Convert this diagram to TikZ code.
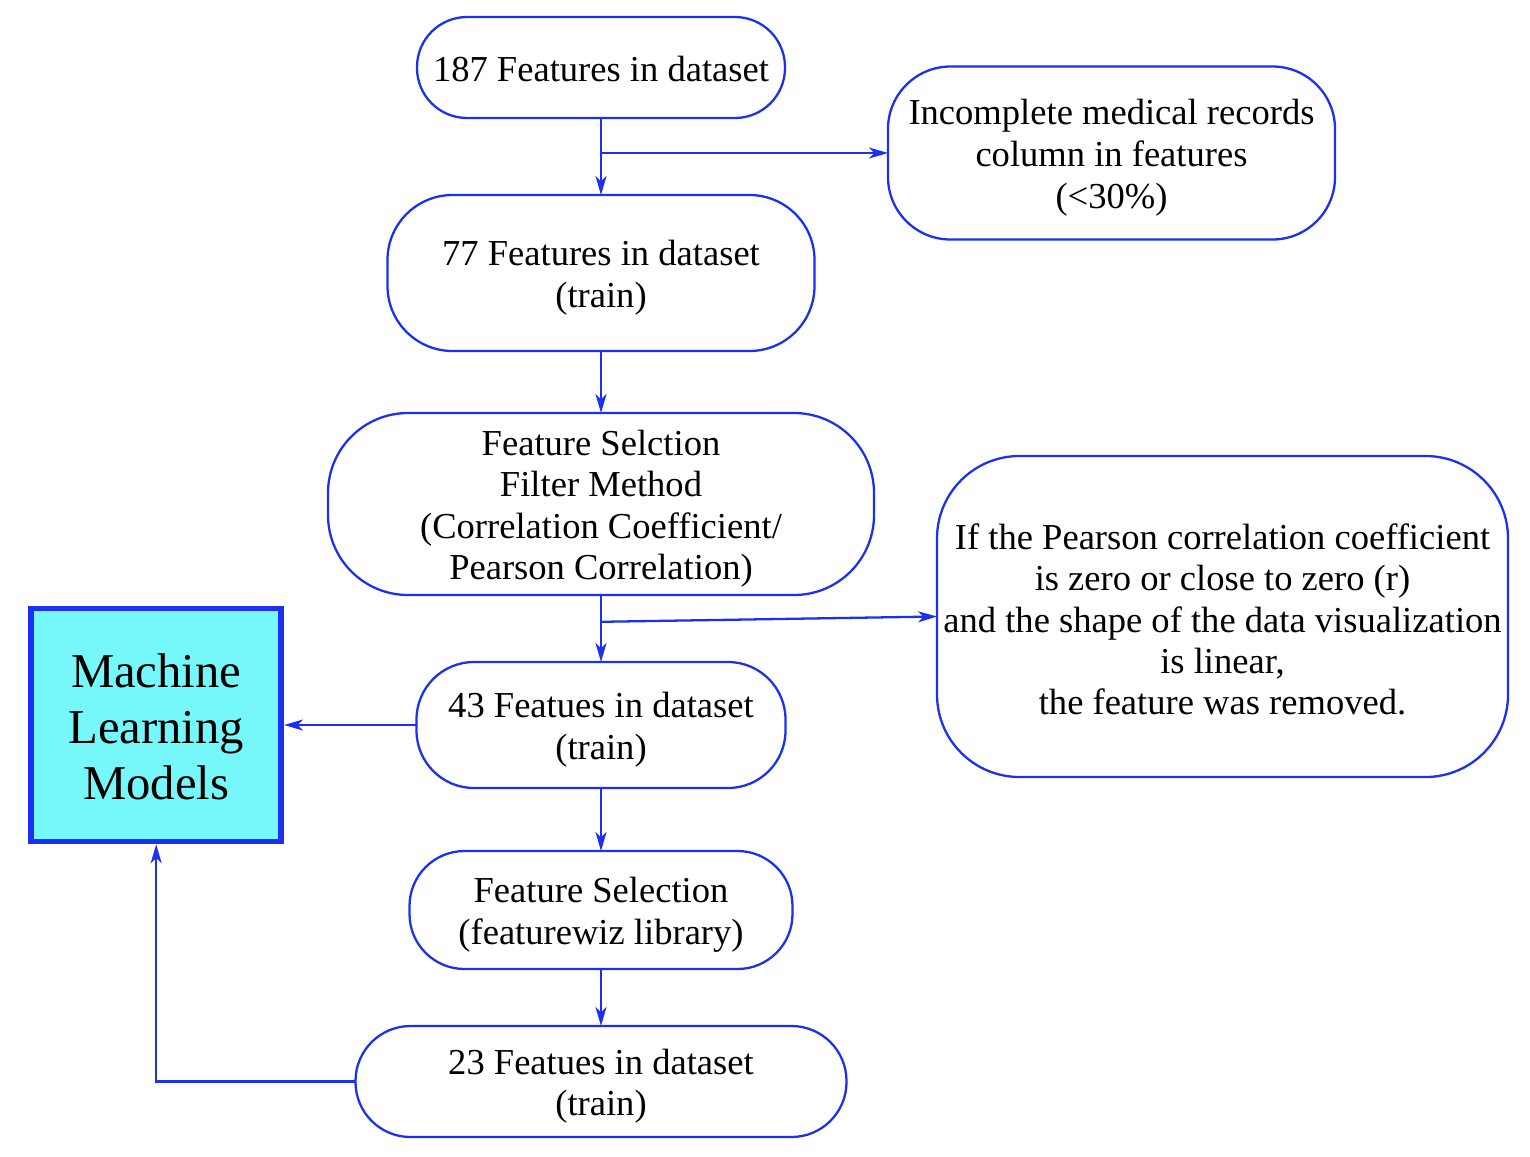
\documentclass[tikz,border=0pt]{standalone}
\usepackage{fontspec}
\setmainfont{Liberation Serif}
\usepackage{xcolor}
\usetikzlibrary{positioning,arrows.meta,calc}
\definecolor{FlowBlue}{RGB}{28,48,240}
\definecolor{ModelCyan}{RGB}{118,248,250}
\newcommand{\topgap}[1]{\rule{0pt}{#1}}

\begin{document}
\begin{tikzpicture}[
        node distance=1.3cm and 2cm,
        box/.style={rectangle, rounded corners=#1, draw=FlowBlue, line width=1.3pt,
                    align=center, inner sep=0pt, outer sep=0pt,
                    font=\fontsize{20.8}{23.7}\selectfont},
        box/.default=1.1cm,
        mlbox/.style={rectangle, draw=FlowBlue, fill=ModelCyan, line width=3.2pt,
                      minimum width=5cm, minimum height=4.66cm, align=center,
                      inner sep=0pt, font=\fontsize{27.7}{31.7}\selectfont},
        arrow/.style={-{Stealth[length=0.38cm,width=0.22cm,inset=0.11cm]}, line width=1.3pt, FlowBlue}
    ]
        \useasboundingbox (0,0) rectangle (30.6,-23.12);

        \node[box=1cm, minimum width=7.36cm, minimum height=2.02cm] (f187) at (12.02,-1.35) {\topgap{16.5pt}187 Features in dataset};
        \node[box=1.3cm, minimum width=8.54cm, minimum height=3.12cm, below=1.54cm of f187] (f77) {\topgap{19.8pt}77 Features in dataset\\(train)};
        \node[box=1.25cm, minimum width=8.94cm, minimum height=3.46cm, right=2.06cm of f187, yshift=-1.71cm] (missing) {\topgap{19.8pt}Incomplete medical records\\column in features\\(<30\%)};
        \node[box=1.6cm, minimum width=10.92cm, minimum height=3.64cm, below=1.24cm of f77] (filter) {\topgap{19.8pt}Feature Selction\\Filter Method\\(Correlation Coefficient/\\Pearson Correlation)};
        \node[box=1.15cm, minimum width=7.38cm, minimum height=2.52cm, below=1.34cm of filter] (f43) {\topgap{19.8pt}43 Featues in dataset\\(train)};
        \node[box=1.65cm, minimum width=11.42cm, minimum height=6.42cm, right=1.26cm of filter, yshift=-2.25cm,
              font=\fontsize{20.8}{23.4}\selectfont] (pearson) {\topgap{18pt}If the Pearson correlation coefficient\\is zero or close to zero (r)\\and the shape of the data visualization\\is linear,\\the feature was removed.};
        \node[box=1.1cm, minimum width=7.66cm, minimum height=2.36cm, below=1.26cm of f43] (fwiz) {\topgap{19.8pt}Feature Selection\\(featurewiz library)};
        \node[box=1.1cm, minimum width=9.82cm, minimum height=2.22cm, below=1.14cm of fwiz] (f23) {\topgap{19.8pt}23 Featues in dataset\\(train)};
        \node[mlbox, left=2.65cm of f43] (ml) {\topgap{21.5pt}Machine\\Learning\\Models};

        \coordinate (split1) at (f187.south |- missing.west);
        \coordinate (split2) at ($(filter.south)!0.4!(f43.north)$);

        \draw[arrow] (f187) -- (f77);
        \draw[arrow] (split1) -- (missing.west);
        \draw[arrow] (f77) -- (filter);
        \draw[arrow] (filter) -- (f43);
        \draw[arrow] (split2) -- (pearson.west);
        \draw[arrow] (f43) -- (fwiz);
        \draw[arrow] (fwiz) -- (f23);
        \draw[arrow] (f43) -- (ml);
        \draw[arrow] (f23.west) -| (ml.south);
    \end{tikzpicture}
\end{document}
